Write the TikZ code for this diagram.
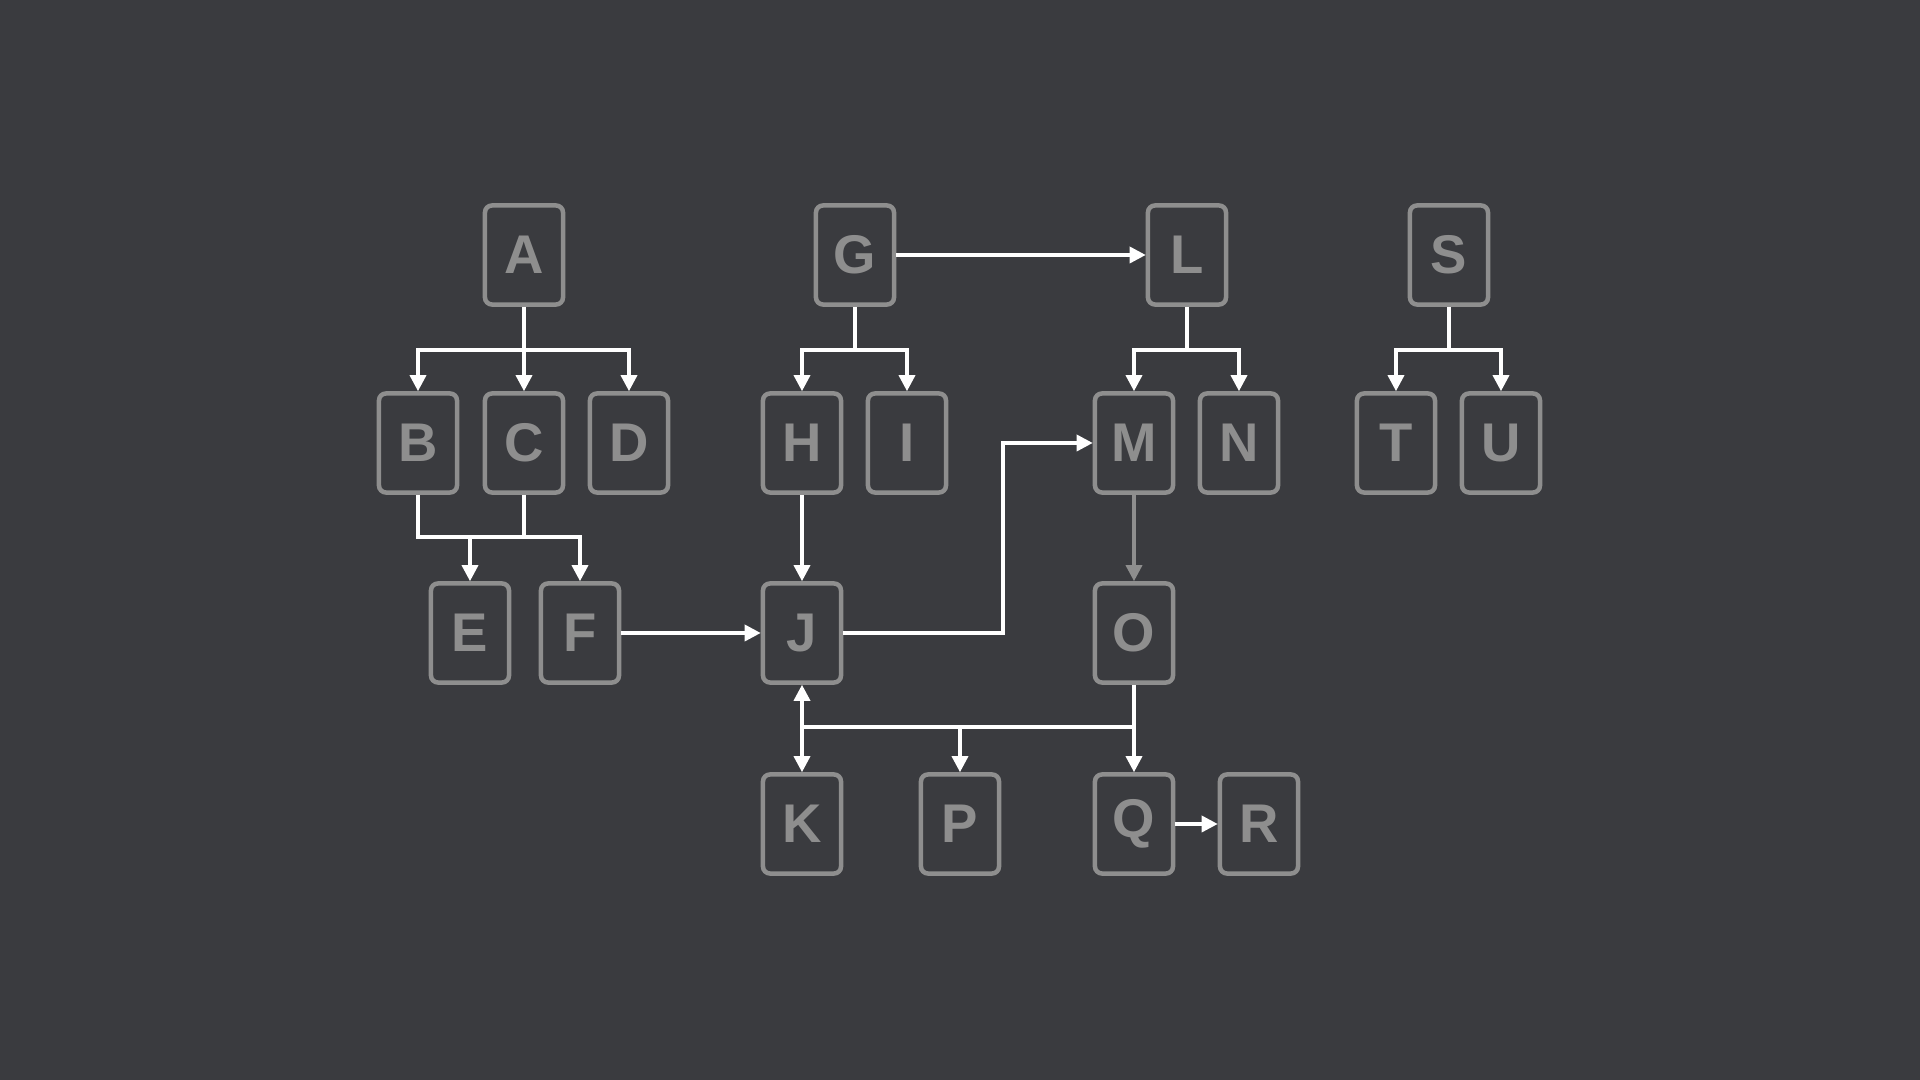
\documentclass[tikz,border=0pt]{standalone}
\usepackage{fontspec}
\setmainfont{Liberation Sans}
\usetikzlibrary{arrows.meta}
\definecolor{bg}{HTML}{3A3B3F}
\definecolor{boxgray}{HTML}{8E8E8E}
\begin{document}
\begin{tikzpicture}[x=0.01cm,y=-0.01cm,>={Triangle[length=0.16cm,width=0.16cm]},
  box/.style={draw=boxgray,line width=0.045cm,rounded corners=0.07cm,fill=bg,
    minimum width=0.78cm,minimum height=0.99cm,inner sep=0pt,
    text=boxgray,font=\fontsize{15.5}{18}\selectfont\bfseries},
  link/.style={white,line width=0.034cm}]
\fill[bg] (0,0) rectangle (1920,1080);
\useasboundingbox (0,0) rectangle (1920,1080);
\node[box] (A) at (524,255) {A};
\node[box] (B) at (418,443) {B};
\node[box] (C) at (524,443) {C};
\node[box] (D) at (629,443) {D};
\node[box] (E) at (470,633) {E};
\node[box] (F) at (580,633) {F};
\node[box] (G) at (855,255) {G};
\node[box] (H) at (802,443) {H};
\node[box] (I) at (907,443) {I};
\node[box] (J) at (802,633) {J};
\node[box] (K) at (802,824) {K};
\node[box] (P) at (960,824) {P};
\node[box] (L) at (1187,255) {L};
\node[box] (M) at (1134,443) {M};
\node[box] (N) at (1239,443) {N};
\node[box] (O) at (1134,633) {O};
\node[box] (Q) at (1134,824) {Q};
\node[box] (R) at (1259,824) {R};
\node[box] (S) at (1449,255) {S};
\node[box] (T) at (1396,443) {T};
\node[box] (U) at (1501,443) {U};
\coordinate (a1) at (524,350);
\coordinate (g1) at (855,350);
\coordinate (l1) at (1187,350);
\coordinate (s1) at (1449,350);
\coordinate (b1) at (418,537);
\coordinate (jm) at (1003,633);
\coordinate (o1) at (1134,727);
\coordinate (k1) at (802,727);
\coordinate (p1) at (960,727);
% first row
\draw[link] (A.south)--(a1);
\draw[link,->] (a1) -| (B.north);
\draw[link,->] (a1)--(C.north);
\draw[link,->] (a1) -| (D.north);
\draw[link] (G.south)--(g1);
\draw[link,->] (g1) -| (H.north);
\draw[link,->] (g1) -| (I.north);
\draw[link] (L.south)--(l1);
\draw[link,->] (l1) -| (M.north);
\draw[link,->] (l1) -| (N.north);
\draw[link] (S.south)--(s1);
\draw[link,->] (s1) -| (T.north);
\draw[link,->] (s1) -| (U.north);
\draw[link,->] (G.east)--(L.west);
% second row
\draw[link,->] (B.south)--(b1) -| (F.north);
\draw[link] (C.south)--(C.south |- b1);
\draw[link,->] (E.north |- b1)--(E.north);
\draw[link,->] (H.south)--(J.north);
\draw[link,boxgray,->] (M.south)--(O.north);
% third row
\draw[link,->] (F.east)--(J.west);
\draw[link,->] (J.east)--(jm) |- (M.west);
\draw[link,->] (O.south)--(Q.north);
\draw[link] (o1)--(k1);
\draw[link,->] (k1)--(J.south);
\draw[link,->] (k1)--(K.north);
\draw[link,->] (p1)--(P.north);
\draw[link,->] (Q.east)--(R.west);
\end{tikzpicture}
\end{document}
